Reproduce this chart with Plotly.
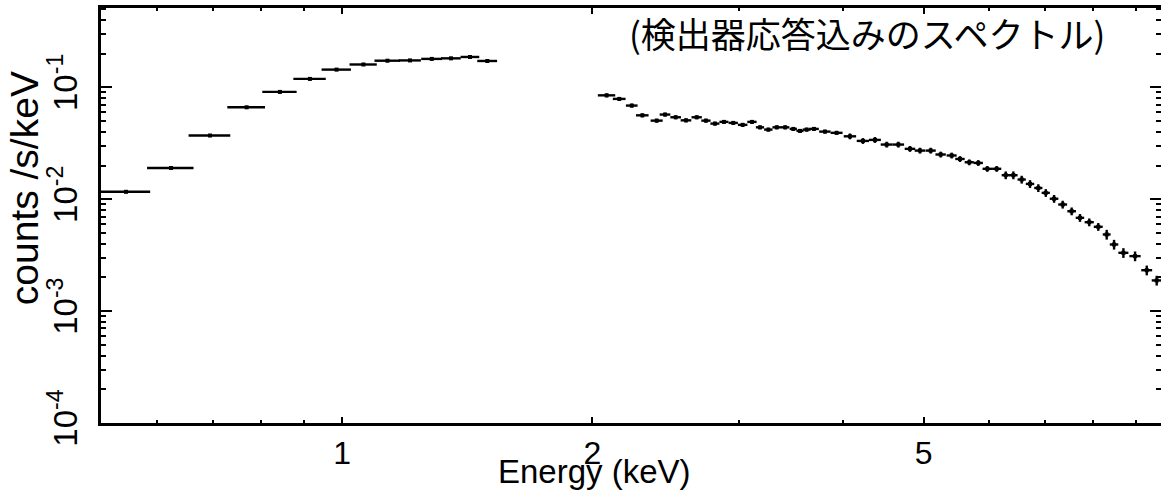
import plotly.graph_objects as go

# ---- data (energy in keV, counts/s/keV) ----
low_energy = [0.550, 0.623, 0.694, 0.768, 0.842, 0.915, 0.985, 1.061, 1.134,
              1.207, 1.282, 1.352, 1.425, 1.495]
low_counts = [0.01165, 0.0190, 0.0371, 0.0663, 0.0910, 0.1189, 0.144, 0.160,
              0.173, 0.174, 0.1795, 0.1816, 0.1868, 0.172]
low_halfwidth = [0.038, 0.040, 0.040, 0.040, 0.040, 0.041, 0.040, 0.040, 0.040,
                 0.037, 0.037, 0.037, 0.037, 0.041]
low_relerr = [0.03] * 14

high_energy = [2.080, 2.154, 2.230, 2.296, 2.389, 2.445, 2.518, 2.591, 2.669, 2.738,
               2.807, 2.878, 2.953, 3.031, 3.110, 3.180, 3.254, 3.331, 3.409, 3.487,
               3.552, 3.618, 3.692, 3.806, 3.931, 4.079, 4.228, 4.371, 4.515, 4.663,
               4.816, 4.951, 5.100, 5.243, 5.405, 5.531, 5.675, 5.818, 5.965, 6.122,
               6.277, 6.411, 6.561, 6.714, 6.870, 7.013, 7.176, 7.349, 7.534, 7.709,
               7.910, 8.110, 8.301, 8.472, 8.694, 8.979, 9.274, 9.533]
high_counts = [0.0848, 0.0788, 0.0687, 0.0562, 0.0504, 0.0571, 0.0540, 0.0507, 0.0540, 0.0504,
               0.0474, 0.0491, 0.0481, 0.0462, 0.0491, 0.0439, 0.0419, 0.0439, 0.0439, 0.0425,
               0.0408, 0.0419, 0.0425, 0.0402, 0.0392, 0.0365, 0.0332, 0.0339, 0.0308, 0.0308,
               0.0282, 0.0272, 0.0272, 0.0251, 0.0246, 0.0229, 0.0214, 0.0211, 0.0187, 0.0187,
               0.0164, 0.0164, 0.0150, 0.0137, 0.0126, 0.0114, 0.0101, 0.00897, 0.00781, 0.00682,
               0.00623, 0.00567, 0.00484, 0.00394, 0.00332, 0.00310, 0.00232, 0.00188]
high_halfwidth = [0.05, 0.038, 0.036, 0.04, 0.04, 0.036,
                  0.037, 0.038, 0.038, 0.035, 0.035, 0.036, 0.038, 0.04,
                  0.04, 0.036, 0.038, 0.04, 0.04, 0.035, 0.035, 0.04, 0.05, 0.06, 0.065,
                  0.07, 0.072, 0.072, 0.074, 0.075, 0.07, 0.072, 0.072, 0.075, 0.075,
                  0.072, 0.072, 0.075, 0.078, 0.078,
                  0.07, 0.075, 0.075, 0.078, 0.078, 0.08, 0.085, 0.09, 0.09, 0.09,
                  0.1, 0.1, 0.09, 0.1, 0.12, 0.14, 0.14, 0.13]
high_relerr = ([0.04] * 25) + ([0.06] * 15) + ([0.08] * 12) + ([0.10] * 6)

x_tick_vals = [1, 2, 5]
x_tick_text = ["1", "2", "5"]
y_tick_vals = [1e-4, 1e-3, 1e-2, 1e-1]
y_tick_text = ["10<sup>-4</sup>", "10<sup>-3</sup>", "10<sup>-2</sup>", "10<sup>-1</sup>"]
x_title = "Energy (keV)"
y_title = "counts /s/keV"
note_text = "(検出器応答込みのスペクトル)"

x_minor = [0.6, 0.7, 0.8, 0.9, 3, 4, 6, 7, 8, 9]
y_minor = [k * d for d in [1e-4, 1e-3, 1e-2, 1e-1] for k in range(2, 10) if k * d < 0.52]

fig = go.Figure()
for xs, ys, hw, rel in [(low_energy, low_counts, low_halfwidth, low_relerr),
                        (high_energy, high_counts, high_halfwidth, high_relerr)]:
    fig.add_trace(go.Scatter(
        x=xs, y=ys, mode="markers",
        marker=dict(symbol="square", size=4, color="black"),
        error_x=dict(type="data", symmetric=True, array=hw, thickness=2.4, width=0, color="black"),
        error_y=dict(type="data", symmetric=True, array=[c * r for c, r in zip(ys, rel)],
                     thickness=2.4, width=0, color="black"),
        hoverinfo="x+y",
    ))

axis_common = dict(showline=True, linecolor="black", linewidth=2.5, mirror="ticks",
                   showgrid=False, zeroline=False, ticks="inside", tickcolor="black",
                   tickwidth=2, automargin=False)

fig.update_layout(
    width=1161, height=494,
    margin=dict(l=101, r=0, t=8, b=71, autoexpand=False),
    plot_bgcolor="white", paper_bgcolor="white",
    showlegend=False,
    font=dict(family="Liberation Sans, Arial, sans-serif", color="black"),
    xaxis=dict(type="log", range=[-0.2897, 0.9844], tickmode="array",
               tickvals=x_tick_vals, ticktext=x_tick_text, ticklen=6,
               tickfont=dict(size=32), ticklabelstandoff=0,
               minor=dict(tickmode="array", tickvals=x_minor, ticks="inside",
                          ticklen=3, tickwidth=2, tickcolor="black", showgrid=False),
               **axis_common),
    yaxis=dict(type="log", range=[-4, -0.291], tickmode="array",
               tickvals=y_tick_vals, ticktext=y_tick_text, ticklen=11,
               tickangle=-90, tickfont=dict(size=33), ticklabelstandoff=8,
               minor=dict(tickmode="array", tickvals=y_minor, ticks="inside",
                          ticklen=5, tickwidth=2, tickcolor="black", showgrid=False),
               **axis_common),
)

fig.add_annotation(text=x_title, xref="paper", yref="paper", x=0.466, y=-0.118,
                   xanchor="center", yanchor="middle", showarrow=False,
                   font=dict(size=33, family="Liberation Sans, Arial, sans-serif"))
fig.add_annotation(text=y_title, xref="paper", yref="paper", x=-0.072, y=0.565,
                   xanchor="center", yanchor="middle", textangle=-90, showarrow=False,
                   font=dict(size=39, family="Liberation Sans, Arial, sans-serif"))
fig.add_annotation(text=note_text, xref="paper", yref="paper", x=0.949, y=0.94,
                   xanchor="right", yanchor="middle", showarrow=False,
                   font=dict(size=35, family="Noto Sans CJK JP, sans-serif"))

fig.write_html("out.html",
               config={"displayModeBar": False},
               post_script="document.body.style.margin='0';document.body.style.overflow='hidden';")
